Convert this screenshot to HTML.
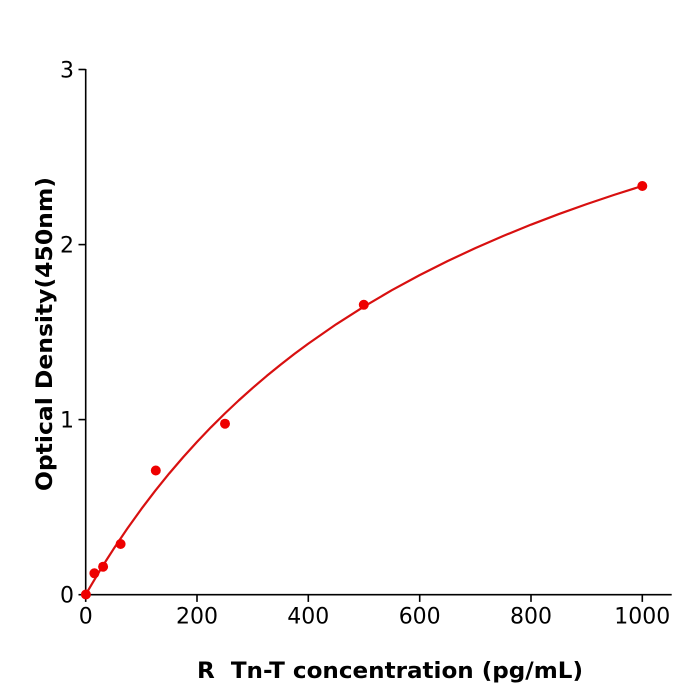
<!DOCTYPE html>
<html>
<head>
<meta charset="utf-8">
<style>
html,body{margin:0;padding:0;background:#fff;}
svg{display:block;}
text{font-family:"DejaVu Sans","Liberation Sans",sans-serif;fill:#000;}
</style>
</head>
<body>
<svg width="700" height="700" viewBox="0 0 700 700" xmlns="http://www.w3.org/2000/svg">
<rect width="700" height="700" fill="#fff"/>
<!-- axes -->
<g stroke="#000" stroke-width="1.6" fill="none">
<line x1="85.7" y1="69" x2="85.7" y2="595.5"/>
<line x1="84.9" y1="594.7" x2="671.7" y2="594.7"/>
<!-- y ticks -->
<line x1="78.5" y1="594.7" x2="85.7" y2="594.7"/>
<line x1="78.5" y1="419.6" x2="85.7" y2="419.6"/>
<line x1="78.5" y1="244.6" x2="85.7" y2="244.6"/>
<line x1="78.5" y1="69.5" x2="85.7" y2="69.5"/>
<!-- x ticks -->
<line x1="85.7" y1="594.7" x2="85.7" y2="601.9"/>
<line x1="197.0" y1="594.7" x2="197.0" y2="601.9"/>
<line x1="308.3" y1="594.7" x2="308.3" y2="601.9"/>
<line x1="419.7" y1="594.7" x2="419.7" y2="601.9"/>
<line x1="531.0" y1="594.7" x2="531.0" y2="601.9"/>
<line x1="642.3" y1="594.7" x2="642.3" y2="601.9"/>
</g>
<!-- y tick labels -->
<g font-size="22" text-anchor="end">
<text x="74" y="602.5">0</text>
<text x="74" y="427.5">1</text>
<text x="74" y="252.5">2</text>
<text x="74" y="77.5">3</text>
</g>
<!-- x tick labels -->
<g font-size="22" text-anchor="middle">
<text x="85.7" y="623.5">0</text>
<text x="197.0" y="623.5">200</text>
<text x="308.3" y="623.5">400</text>
<text x="419.7" y="623.5">600</text>
<text x="531.0" y="623.5">800</text>
<text x="642.3" y="623.5">1000</text>
</g>
<!-- axis labels -->
<text x="390" y="678" font-size="22" font-weight="bold" text-anchor="middle" textLength="386" lengthAdjust="spacingAndGlyphs" xml:space="preserve">R  Tn-T concentration (pg/mL)</text>
<text transform="translate(52,334) rotate(-90)" font-size="22" font-weight="bold" text-anchor="middle" textLength="314" lengthAdjust="spacingAndGlyphs">Optical Density(450nm)</text>
<!-- curve -->
<polyline fill="none" stroke="#d81010" stroke-width="2.2" stroke-linejoin="round" stroke-linecap="round" points="85.7,594.7 88.48,589.85 91.27,585.07 95.44,578.02 99.62,571.11 106.57,559.89 113.53,549.04 127.45,528.37 141.36,508.96 155.28,490.69 169.19,473.48 183.11,457.23 197.02,441.86 210.94,427.30 224.85,413.49 238.77,400.38 252.68,387.91 266.60,376.04 280.51,364.72 294.43,353.92 308.34,343.60 336.17,324.28 364.0,306.55 391.83,290.21 419.66,275.12 447.49,261.13 475.32,248.11 503.15,236.00 530.98,224.66 558.81,214.05 586.64,204.10 614.47,194.74 642.3,185.93"/>
<!-- points -->
<g fill="#ee0000">
<circle cx="85.9" cy="594.5" r="5"/>
<circle cx="94.4" cy="573.3" r="5"/>
<circle cx="103.1" cy="566.7" r="5"/>
<circle cx="120.6" cy="544" r="5"/>
<circle cx="155.8" cy="470.5" r="5"/>
<circle cx="225" cy="423.7" r="5"/>
<circle cx="363.8" cy="304.8" r="5"/>
<circle cx="642.3" cy="186" r="5"/>
</g>
</svg>
</body>
</html>
